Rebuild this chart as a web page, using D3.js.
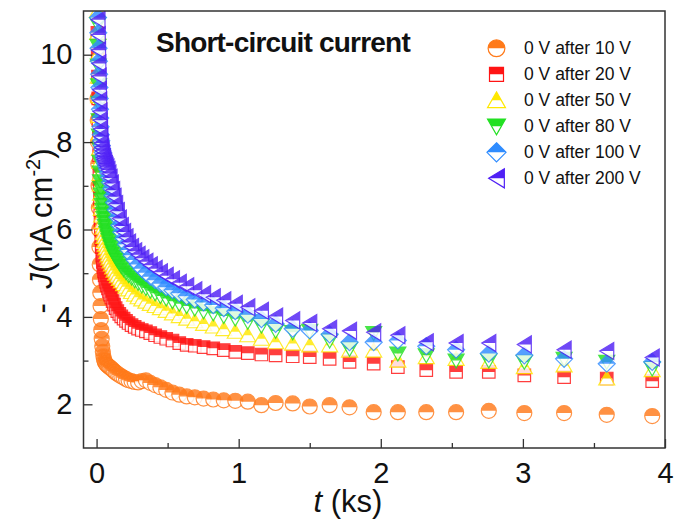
<!DOCTYPE html>
<html><head><meta charset="utf-8">
<script src="https://cdn.jsdelivr.net/npm/d3@7"></script>
<style>
body{margin:0;background:#fff;}
svg{display:block;font-family:"Liberation Sans",Arial,sans-serif;}
</style>
</head><body><svg id="c" width="674" height="522"></svg>
<script>
// time (ks)
const times = [0.006,0.008,0.010,0.012,0.014,0.016,0.018,0.020,0.022,0.024,0.026,0.028,0.030,
  0.033,0.036,0.040,0.044,0.048,0.052,0.057,0.062,0.067,0.073,0.080,0.087,0.095,
  0.104,0.113,0.123,0.134,0.146,0.160,0.174,0.190,0.207,0.225,
  0.246,0.268,0.292,0.318,0.347,0.378,0.412,0.449,0.490,0.534,
  0.582,0.634,0.691,0.753,0.821,0.895,0.976,1.064,1.16,1.26,
  1.38,1.50,1.64,1.78,1.95,2.12,2.32,2.53,2.76,3.01,
  3.29,3.59,3.91];
// -J (nA cm^-2)
const after10V = [9.0,8.5,8.0,7.5,7.0,6.5,6.0,5.6,5.2,4.85,4.55,4.25,3.95,
  3.7,3.5,3.33,3.2,3.1,3.03,2.98,2.95,2.92,2.9,2.88,2.86,2.84,
  2.82,2.79,2.76,2.73,2.70,2.67,2.64,2.61,2.58,2.55,
  2.53,2.51,2.50,2.53,2.55,2.49,2.44,2.39,2.33,2.27,
  2.22,2.18,2.16,2.13,2.11,2.09,2.08,2.06,1.98,2.03,
  2.02,1.95,1.98,1.93,1.82,1.82,1.82,1.82,1.85,1.80,
  1.80,1.76,1.73];
const after20V = [10.5,10.0,9.5,9.0,8.5,8.1,7.7,7.3,7.0,6.7,6.45,6.2,6.0,
  5.8,5.6,5.4,5.26,5.14,5.04,4.95,4.87,4.8,4.72,4.65,4.58,4.51,
  4.44,4.36,4.28,4.2,4.13,4.07,4.01,3.96,3.91,3.86,
  3.81,3.77,3.73,3.70,3.67,3.63,3.58,3.54,3.50,3.46,
  3.40,3.36,3.34,3.31,3.28,3.24,3.20,3.17,3.14,3.12,
  3.10,3.08,3.04,2.97,2.93,2.85,2.78,2.74,2.74,2.66,
  2.62,2.59,2.53];
const after50V = [11.0,10.5,10.0,9.5,9.05,8.6,8.2,7.85,7.55,7.27,7.03,6.82,6.64,
  6.47,6.32,6.17,6.04,5.93,5.83,5.74,5.65,5.57,5.49,5.41,5.34,5.27,
  5.2,5.13,5.06,4.99,4.93,4.87,4.81,4.75,4.69,4.63,
  4.57,4.51,4.45,4.4,4.35,4.3,4.25,4.2,4.14,4.08,
  4.02,3.96,3.9,3.84,3.78,3.72,3.66,3.58,3.5,3.42,
  3.39,3.35,3.35,3.23,3.23,3.0,3.08,3.04,2.97,2.85,
  2.89,2.59,2.78];
const after80V = [11.2,10.7,10.2,9.75,9.3,8.9,8.5,8.15,7.85,7.55,7.3,7.1,6.95,
  6.8,6.68,6.56,6.45,6.35,6.26,6.17,6.08,6.0,5.92,5.84,5.76,5.68,
  5.6,5.52,5.44,5.37,5.3,5.23,5.16,5.09,5.02,4.96,
  4.9,4.84,4.78,4.72,4.66,4.6,4.54,4.48,4.42,4.36,
  4.3,4.25,4.19,4.13,4.08,4.02,3.96,3.89,3.8,3.68,
  3.65,3.68,3.46,3.27,3.63,3.16,3.12,3.0,3.0,2.97,
  3.04,2.97,2.82];
const after100V = [11.6,11.25,10.85,10.5,10.15,9.85,9.55,9.25,9.0,8.75,8.55,8.35,8.17,
  8.03,7.92,7.84,7.76,7.69,7.63,7.57,7.51,7.45,7.38,7.3,7.2,7.08,
  6.94,6.78,6.62,6.45,6.28,6.1,5.94,5.8,5.66,5.53,
  5.41,5.3,5.2,5.1,5.01,4.92,4.84,4.76,4.68,4.61,
  4.54,4.47,4.4,4.33,4.27,4.2,4.13,4.05,3.95,3.84,
  3.73,3.69,3.60,3.42,3.42,3.46,3.33,3.25,3.16,3.12,
  3.04,2.93,2.97];
const after200V = [11.6,11.2,10.8,10.45,10.1,9.8,9.5,9.2,8.95,8.7,8.5,8.3,8.12,
  7.98,7.88,7.8,7.72,7.65,7.6,7.55,7.5,7.46,7.42,7.36,7.28,7.18,
  7.05,6.9,6.75,6.58,6.42,6.25,6.08,5.94,5.82,5.7,
  5.6,5.5,5.42,5.34,5.26,5.18,5.1,5.02,4.94,4.86,
  4.78,4.7,4.61,4.52,4.45,4.38,4.3,4.22,4.14,4.01,
  3.92,3.86,3.73,3.68,3.65,3.58,3.42,3.40,3.40,3.37,
  3.25,3.22,3.07];

const seriesNames = ["0 V after 10 V","0 V after 20 V","0 V after 50 V","0 V after 80 V","0 V after 100 V","0 V after 200 V"];
const seriesValues = [after10V, after20V, after50V, after80V, after100V, after200V];
const seriesColors = ["#ff7a1a","#ff1414","#ffe800","#22e022","#2f8cff","#5020f5"];
const seriesShapes = ["circle","square","up","down","diamond","left"];
const xTicks = [0,1,2,3,4];
const xMinor = [0.5,1.5,2.5,3.5];
const yTicks = [2,4,6,8,10];
const yMinor = [3,5,7,9];

const svg = d3.select("#c");
const L = 83.5, R = 665, T = 11, B = 448;
const x = d3.scaleLinear().domain([-0.092, 4]).range([L, R]);
const y = d3.scaleLinear().domain([1, 11]).range([B, T]);

function shapePath(kind, s) {
  switch (kind) {
    case "circle": return d3.symbol(d3.symbolCircle, Math.PI * 7.5 * 7.5 * s * s)();
    case "square": return d3.symbol(d3.symbolSquare, (12.5 * s) * (12.5 * s))();
    case "up": return `M0,${-7.5*s}L${8*s},${6.5*s}L${-8*s},${6.5*s}Z`;
    case "down": return `M${-8*s},${-6.5*s}L${8*s},${-6.5*s}L0,${7.5*s}Z`;
    case "diamond": return `M0,${-8.5*s}L${8.5*s},0L0,${8.5*s}L${-8.5*s},0Z`;
    case "left": return `M${-7*s},0L${7*s},${-8.5*s}L${7*s},${8.5*s}Z`;
  }
}

const defs = svg.append("defs");
defs.append("clipPath").attr("id", "plotclip").append("rect")
  .attr("x", L).attr("y", T).attr("width", R - L).attr("height", B - T);
defs.append("clipPath").attr("id", "tophalf").attr("clipPathUnits", "userSpaceOnUse")
  .append("rect").attr("x", -30).attr("y", -30).attr("width", 60).attr("height", 30);

function marker(g, kind, color, s) {
  const d = shapePath(kind, s);
  g.append("path").attr("d", d).attr("fill", "#fff");
  g.append("path").attr("d", d).attr("fill", color).attr("clip-path", "url(#tophalf)");
  g.append("path").attr("d", d).attr("fill", "none").attr("stroke", color).attr("stroke-width", 1.2);
}

// data
const plot = svg.append("g").attr("clip-path", "url(#plotclip)");
seriesValues.forEach((vals, si) => {
  const gs = plot.append("g");
  vals.forEach((v, i) => {
    const g = gs.append("g")
      .attr("transform", `translate(${x(times[i])},${y(v)})`)
      .attr("opacity", 0.82);
    marker(g, seriesShapes[si], seriesColors[si], 1);
  });
});

// frame
svg.append("rect").attr("x", L).attr("y", T).attr("width", R - L).attr("height", B - T)
  .attr("fill", "none").attr("stroke", "#333").attr("stroke-width", 1.5);

// axes
const ax = svg.append("g").attr("transform", `translate(0,${B})`)
  .call(d3.axisBottom(x).tickValues(xTicks).tickSize(-9).tickPadding(14).tickFormat(d3.format("d")));
const axm = svg.append("g").attr("transform", `translate(0,${B})`)
  .call(d3.axisBottom(x).tickValues(xMinor).tickSize(-5).tickFormat(""));
const ay = svg.append("g").attr("transform", `translate(${L},0)`)
  .call(d3.axisLeft(y).tickValues(yTicks).tickSize(-9).tickPadding(11).tickFormat(d3.format("d")));
const aym = svg.append("g").attr("transform", `translate(${L},0)`)
  .call(d3.axisLeft(y).tickValues(yMinor).tickSize(-5).tickFormat(""));
[ax, axm, ay, aym].forEach(a => {
  a.select(".domain").remove();
  a.selectAll(".tick line").attr("stroke", "#333").attr("stroke-width", 1.3);
  a.selectAll("text").attr("font-size", 29).attr("fill", "#111")
    .attr("font-family", "'Liberation Sans', Arial, sans-serif");
});

// axis titles
const xt = svg.append("text").attr("x", 348).attr("y", 512).attr("text-anchor", "middle")
  .attr("font-size", 31).attr("fill", "#111");
xt.append("tspan").attr("font-style", "italic").text("t");
xt.append("tspan").text(" (ks)");

const yt = svg.append("text").attr("transform", "translate(52,231) rotate(-90)")
  .attr("text-anchor", "middle").attr("font-size", 31).attr("fill", "#111");
yt.append("tspan").text("- ");
yt.append("tspan").attr("font-style", "italic").attr("dx", 6).text("J");
yt.append("tspan").text("(nA cm");
yt.append("tspan").attr("font-size", 20).attr("dy", -12).text("-2");
yt.append("tspan").attr("dy", 12).text(")");

// title
svg.append("text").attr("x", 156).attr("y", 52).attr("font-size", 28)
  .attr("font-weight", "bold").attr("letter-spacing", -0.8).attr("fill", "#111")
  .text("Short-circuit current");

// legend
const lg = svg.append("g");
seriesNames.forEach((name, i) => {
  const yy = 48.3 + i * 26;
  const g = lg.append("g").attr("transform", `translate(496.5,${yy})`);
  marker(g, seriesShapes[i], seriesColors[i], 1.12);
  lg.append("text").attr("x", 524).attr("y", yy + 6).attr("font-size", 17.5)
    .attr("fill", "#111").text(name);
});
</script>
</body></html>
